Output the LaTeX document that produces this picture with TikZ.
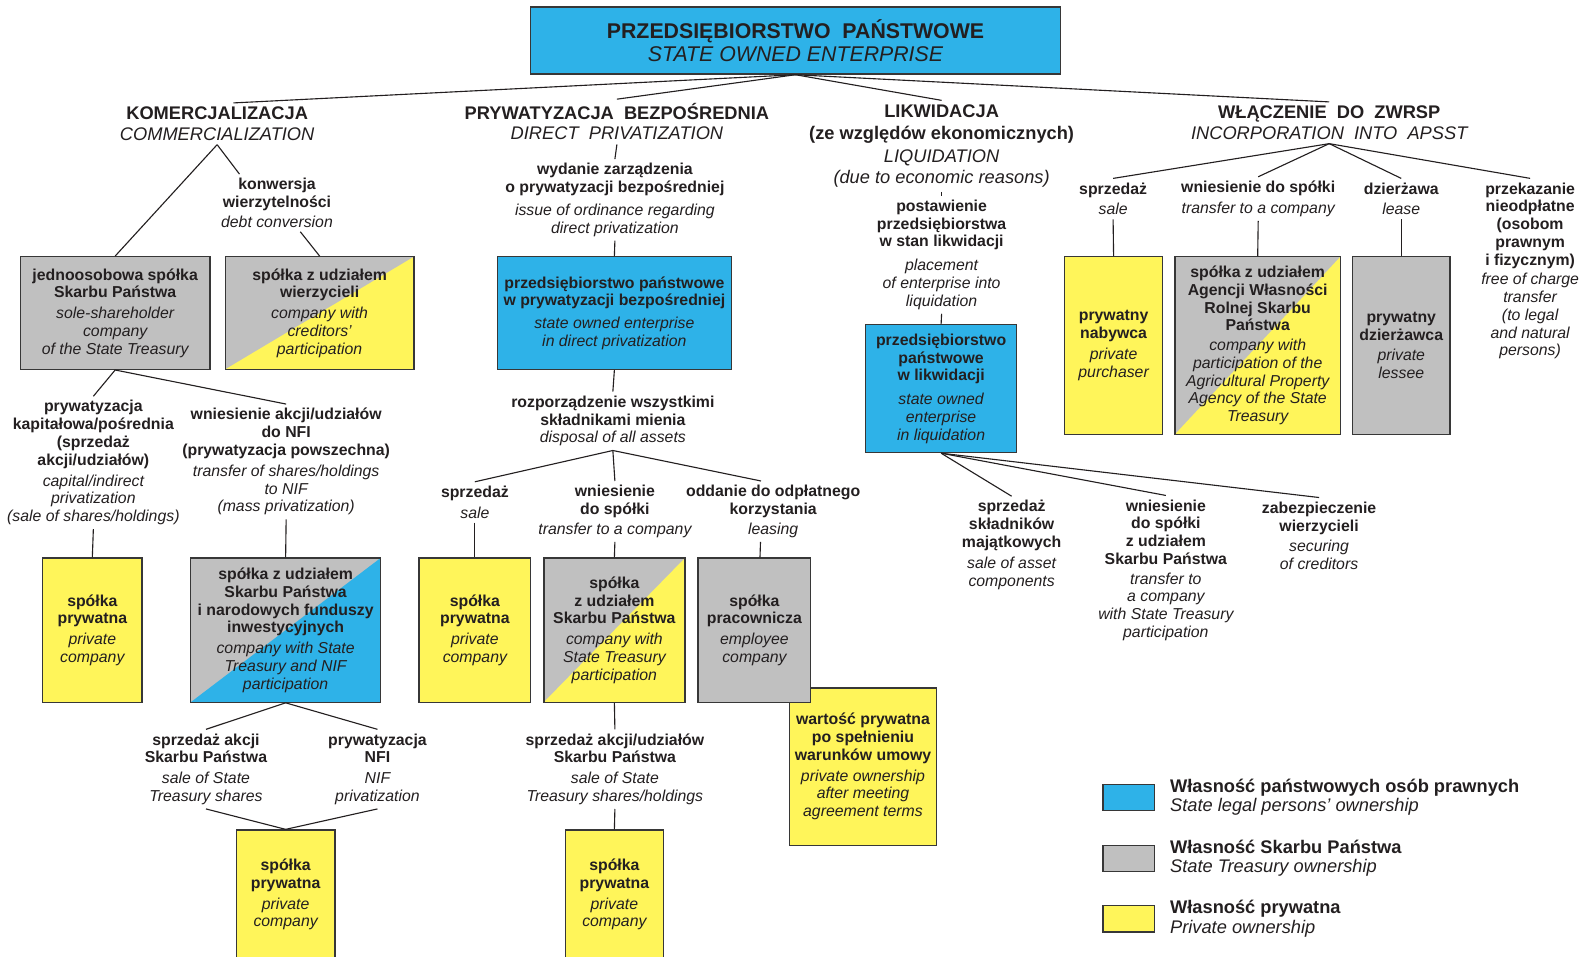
\documentclass[tikz,border=0pt]{standalone}
\usepackage{fontspec}
\setmainfont{Liberation Sans}
\definecolor{cblue}{RGB}{46,178,232}
\definecolor{cgray}{RGB}{192,192,192}
\definecolor{cyel}{RGB}{255,245,90}
\definecolor{bordc}{RGB}{55,55,55}
\definecolor{txtc}{RGB}{35,31,32}
\newcommand{\bodyfont}{\fontsize{15.6}{17.5}\selectfont\bfseries}
\newcommand{\hdrfont}{\fontsize{18}{20}\selectfont\bfseries}
\newcommand{\ital}[1]{{\mdseries\itshape #1}}
\begin{document}
\begin{tikzpicture}[x=1pt,y=-1pt,
  box/.style={draw=bordc, line width=1.3pt, align=center, font=\bodyfont, text=txtc, inner sep=2pt},
  lbl/.style={align=center, font=\bodyfont, text=txtc, inner xsep=2pt, inner ysep=4pt},
  hdr/.style={align=center, font=\hdrfont, text=txtc, inner xsep=2pt, inner ysep=4pt},
  conn/.style={draw=txtc, line width=1.1pt},
  yb/.style={box, fill=cyel},
  gb/.style={box, fill=cgray},
  bb/.style={box, fill=cblue},
  gyb/.style={box, fill=cgray, path picture={\fill[cyel] (path picture bounding box.south west) -- (path picture bounding box.south east) -- (path picture bounding box.north east) -- cycle;}},
  gbb/.style={box, fill=cgray, path picture={\fill[cblue] (path picture bounding box.south west) -- (path picture bounding box.south east) -- (path picture bounding box.north east) -- cycle;}},
  sz/.style 2 args={minimum width=#1, minimum height=#2},
  lgt/.style={anchor=west, align=left, font=\fontsize{18}{19}\selectfont\bfseries, text=txtc, inner sep=0pt}
]
\clip (0,0) rectangle (1568,943);
\fill[white] (0,0) rectangle (1568,943);

% top
\node[bb, sz={522}{66}, font=\fontsize{21}{22.5}\selectfont\bfseries] (top) at (784,40) {PRZEDSIĘBIORSTWO~~PAŃSTWOWE\\\ital{STATE OWNED ENTERPRISE}};

% headers
\node[hdr] (kom) at (214,122) {KOMERCJALIZACJA\\\ital{COMMERCIALIZATION}};
\node[hdr] (pbz) at (608,120) {PRYWATYZACJA~~BEZPOŚREDNIA\\\ital{DIRECT~~PRIVATIZATION}};
\node[hdr, font=\fontsize{18}{21.5}\selectfont\bfseries] (lik) at (928,144) {LIKWIDACJA\\(ze względów ekonomicznych)\\[1pt]\ital{LIQUIDATION}\\\ital{(due to economic reasons)}};
\node[hdr] (wlz) at (1310,121) {WŁĄCZENIE~~DO~~ZWRSP\\\ital{INCORPORATION~~INTO~~APSST}};

% commercialization branch
\node[lbl] (konw) at (273,200) {konwersja\\wierzytelności\\[2pt]\ital{debt conversion}};
\node[gb, sz={187}{111}] (jsp) at (113.5,308.5) {jednoosobowa spółka\\Skarbu Państwa\\[3pt]\ital{sole-shareholder}\\\ital{company}\\\ital{of the State Treasury}};
\node[gyb, sz={186}{111}] (szw) at (315,308.5) {spółka z udziałem\\wierzycieli\\[3pt]\ital{company with}\\\ital{creditors’}\\\ital{participation}};
\node[lbl] (pkp) at (92,456) {prywatyzacja\\kapitałowa/pośrednia\\(sprzedaż\\akcji/udziałów)\\[3pt]\ital{capital/indirect}\\\ital{privatization}\\\ital{(sale of shares/holdings)}};
\node[lbl] (wna) at (282,455) {wniesienie akcji/udziałów\\do NFI\\(prywatyzacja powszechna)\\[3pt]\ital{transfer of shares/holdings}\\\ital{to NIF}\\\ital{(mass privatization)}};
\node[yb, sz={98}{142}] (sp1) at (91,621) {spółka\\prywatna\\[3pt]\ital{private}\\\ital{company}};
\node[gbb, sz={187}{142}] (nfi) at (281.5,621) {spółka z udziałem\\Skarbu Państwa\\i narodowych funduszy\\inwestycyjnych\\[3pt]\ital{company with State}\\\ital{Treasury and NIF}\\\ital{participation}};
\node[lbl] (ssp) at (203,758) {sprzedaż akcji\\Skarbu Państwa\\[3pt]\ital{sale of State}\\\ital{Treasury shares}};
\node[lbl] (pnfi) at (372,758) {prywatyzacja\\NFI\\[3pt]\ital{NIF}\\\ital{privatization}};
\node[yb, sz={97}{127}] (sp2) at (281.5,881.5) {spółka\\prywatna\\[3pt]\ital{private}\\\ital{company}};

% direct privatization branch
\node[lbl] (wyd) at (606,197) {wydanie zarządzenia\\o prywatyzacji bezpośredniej\\[5pt]\ital{issue of ordinance regarding}\\\ital{direct privatization}};
\node[bb, sz={231}{111}] (pbb) at (605.5,308.5) {przedsiębiorstwo państwowe\\w prywatyzacji bezpośredniej\\[5pt]\ital{state owned enterprise}\\\ital{in direct privatization}};
\node[lbl] (roz) at (604,415) {rozporządzenie wszystkimi\\składnikami mienia\\\ital{disposal of all assets}};
\node[lbl] (spz) at (468,495) {sprzedaż\\[3pt]\ital{sale}};
\node[lbl] (wds) at (606,504) {wniesienie\\do spółki\\[2pt]\ital{transfer to a company}};
\node[lbl] (odd) at (762,504) {oddanie do odpłatnego\\korzystania\\[2pt]\ital{leasing}};
\node[yb, sz={110}{142}] (spy) at (468,621) {spółka\\prywatna\\[3pt]\ital{private}\\\ital{company}};
\node[gyb, sz={139}{142}] (spw) at (605.5,621) {spółka\\z udziałem\\Skarbu Państwa\\[3pt]\ital{company with}\\\ital{State Treasury}\\\ital{participation}};
\node[yb, sz={145}{155}] (wart) at (850.5,755.5) {wartość prywatna\\po spełnieniu\\warunków umowy\\[3pt]\ital{private ownership}\\\ital{after meeting}\\\ital{agreement terms}};
\node[gb, sz={111}{142}] (sppr) at (743.5,621) {spółka\\pracownicza\\[3pt]\ital{employee}\\\ital{company}};
\node[lbl] (ssp2) at (606,758) {sprzedaż akcji/udziałów\\Skarbu Państwa\\[3pt]\ital{sale of State}\\\ital{Treasury shares/holdings}};
\node[yb, sz={97}{127}] (sp3) at (605.5,881.5) {spółka\\prywatna\\[3pt]\ital{private}\\\ital{company}};

% liquidation branch
\node[lbl] (pst) at (928,251) {postawienie\\przedsiębiorstwa\\w stan likwidacji\\[6pt]\ital{placement}\\\ital{of enterprise into}\\\ital{liquidation}};
\node[bb, sz={149}{126}] (plk) at (927.5,383) {przedsiębiorstwo\\państwowe\\w likwidacji\\[6pt]\ital{state owned}\\\ital{enterprise}\\\ital{in liquidation}};
\node[lbl] (skm) at (997,537) {sprzedaż\\składników\\majątkowych\\[3pt]\ital{sale of asset}\\\ital{components}};
\node[lbl] (wdsp) at (1149,562) {wniesienie\\do spółki\\z udziałem\\Skarbu Państwa\\[2pt]\ital{transfer to}\\\ital{a company}\\\ital{with State Treasury}\\\ital{participation}};
\node[lbl] (zab) at (1300,528) {zabezpieczenie\\wierzycieli\\[3pt]\ital{securing}\\\ital{of creditors}};

% incorporation branch
\node[lbl] (w1) at (1097,196) {sprzedaż\\[3pt]\ital{sale}};
\node[lbl] (w2) at (1240,196) {wniesienie do spółki\\[3pt]\ital{transfer to a company}};
\node[lbl] (w3) at (1381,196) {dzierżawa\\[3pt]\ital{lease}};
\node[lbl] (w4) at (1508,267) {przekazanie\\nieodpłatne\\(osobom\\prawnym\\i fizycznym)\\[2pt]\ital{free of charge}\\\ital{transfer}\\\ital{(to legal}\\\ital{and natural}\\\ital{persons)}};
\node[yb, sz={97}{175}] (pn) at (1097.5,340.5) {prywatny\\nabywca\\[3pt]\ital{private}\\\ital{purchaser}};
\node[gyb, sz={163}{175}] (agr) at (1239.5,340.5) {spółka z udziałem\\Agencji Własności\\Rolnej Skarbu\\Państwa\\[2pt]\ital{company with}\\\ital{participation of the}\\\ital{Agricultural Property}\\\ital{Agency of the State}\\\ital{Treasury}};
\node[gb, sz={96}{175}] (pd) at (1381,340.5) {prywatny\\dzierżawca\\[3pt]\ital{private}\\\ital{lessee}};

% legend
\node[box, fill=cblue, sz={51}{26}, inner sep=0pt] (lg1) at (1112.5,786) {};
\node[lgt] (lt1) at (1153,786) {Własność państwowych osób prawnych\\\ital{State legal persons’ ownership}};
\node[box, fill=cgray, sz={51}{26}, inner sep=0pt] (lg2) at (1112.5,846) {};
\node[lgt] (lt2) at (1153,846) {Własność Skarbu Państwa\\\ital{State Treasury ownership}};
\node[box, fill=cyel, sz={51}{26}, inner sep=0pt] (lg3) at (1112.5,905.5) {};
\node[lgt] (lt3) at (1153,905.5) {Własność prywatna\\\ital{Private ownership}};

% connectors
\draw[conn] (top.south) -- ([xshift=16]kom.north);
\draw[conn] (top.south) -- (pbz.north);
\draw[conn] (top.south) -- (lik.north);
\draw[conn] (top.south) -- (wlz.north);

\draw[conn] (kom.south) -- (jsp.north);
\draw[conn] (kom.south) -- ([xshift=-37]konw.north);
\draw[conn] ([xshift=23]konw.south) -- (szw.north);
\draw[conn] (jsp.south) -- (pkp.north);
\draw[conn] (jsp.south) -- (wna.north);
\draw[conn] (pkp.south) -- (sp1.north);
\draw[conn] (wna.south) -- (nfi.north);
\draw[conn] (nfi.south) -- (ssp.north);
\draw[conn] (nfi.south) -- (pnfi.north);
\draw[conn] (ssp.south) -- (sp2.north);
\draw[conn] (pnfi.south) -- (sp2.north);

\draw[conn] (pbz.south) -- (wyd.north);
\draw[conn] (wyd.south) -- (pbb.north);
\draw[conn] (pbb.south) -- (roz.north);
\draw[conn] (roz.south) -- (spz.north);
\draw[conn] (roz.south) -- (wds.north);
\draw[conn] (roz.south) -- ([xshift=-12]odd.north);
\draw[conn] (spz.south) -- (spy.north);
\draw[conn] (wds.south) -- (spw.north);
\draw[conn] ([xshift=-12.5]odd.south) -- ([xshift=5.5]sppr.north);
\draw[conn] (spw.south) -- (ssp2.north);
\draw[conn] (ssp2.south) -- (sp3.north);

\draw[conn] (lik.south) -- (pst.north);
\draw[conn] (pst.south) -- (plk.north);
\draw[conn] (plk.south) -- (skm.north);
\draw[conn] (plk.south) -- (wdsp.north);
\draw[conn] (plk.south) -- (zab.north);

\draw[conn] (wlz.south) -- (w1.north);
\draw[conn] (wlz.south) -- (w2.north);
\draw[conn] (wlz.south) -- (w3.north);
\draw[conn] (wlz.south) -- (w4.north);
\draw[conn] (w1.south) -- (pn.north);
\draw[conn] (w2.south) -- (agr.north);
\draw[conn] (w3.south) -- (pd.north);
\end{tikzpicture}
\end{document}
